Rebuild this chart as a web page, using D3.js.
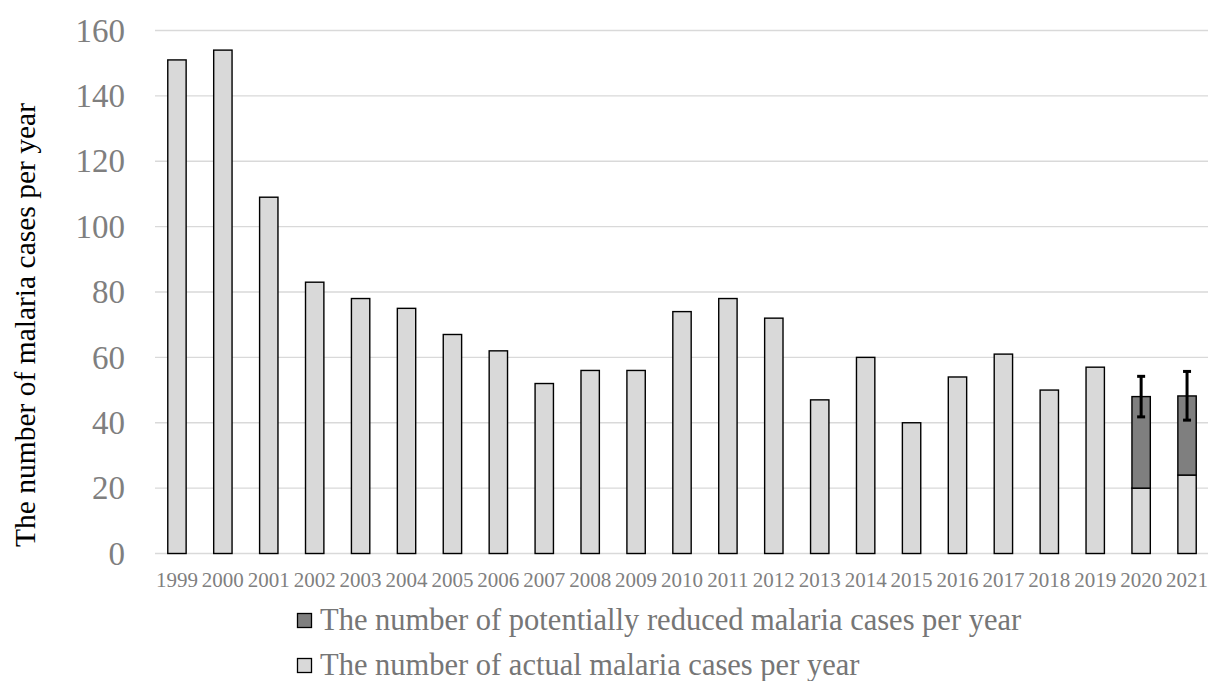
<!DOCTYPE html>
<html>
<head>
<meta charset="utf-8">
<script src="https://cdn.jsdelivr.net/npm/d3@7.9.0/dist/d3.min.js"></script>
<style>
  body { margin: 0; background: #fff; }
  svg { display: block; font-family: "Liberation Serif", "Times New Roman", serif; }
</style>
</head>
<body>
<svg id="chart" width="1208" height="681"></svg>
<script>
// data
const years = ['1999', '2000', '2001', '2002', '2003', '2004', '2005', '2006', '2007', '2008', '2009', '2010',
  '2011', '2012', '2013', '2014', '2015', '2016', '2017', '2018', '2019', '2020', '2021'];
const actualCases = [151, 154, 109, 83, 78, 75, 67, 62, 52, 56, 56, 74, 78, 72, 47, 60, 40, 54, 61, 50, 57, 20, 24];
const reducedCases = [0, 0, 0, 0, 0, 0, 0, 0, 0, 0, 0, 0, 0, 0, 0, 0, 0, 0, 0, 0, 0, 28, 24.2];
const errorLow = [null, null, null, null, null, null, null, null, null, null, null, null,
  null, null, null, null, null, null, null, null, null, 41.8, 40.8];
const errorHigh = [null, null, null, null, null, null, null, null, null, null, null, null,
  null, null, null, null, null, null, null, null, null, 54.2, 55.7];
const yTicks = [0, 20, 40, 60, 80, 100, 120, 140, 160];
const legendLabels = [
  'The number of potentially reduced malaria cases per year',
  'The number of actual malaria cases per year'
];

const svg = d3.select('#chart');

const x = d3.scaleBand()
  .domain(years)
  .range([154, 1210])
  .paddingInner(0.6)
  .paddingOuter(0.3);

const y = d3.scaleLinear()
  .domain([0, 160])
  .range([553.5, 30.5]);

// gridlines
svg.append('g')
  .selectAll('line')
  .data(yTicks)
  .join('line')
  .attr('x1', 155)
  .attr('x2', 1208)
  .attr('y1', d => y(d))
  .attr('y2', d => y(d))
  .attr('stroke', '#d9d9d9')
  .attr('stroke-width', 1.3);

// y tick labels
svg.append('g')
  .selectAll('text')
  .data(yTicks)
  .join('text')
  .attr('x', 125)
  .attr('y', d => y(d))
  .attr('dy', '0.34em')
  .attr('text-anchor', 'end')
  .attr('font-size', 33)
  .attr('fill', '#7f7f7f')
  .text(d => d);

// stacked bars
const rows = years.map((yr, i) => ({ year: yr, actual: actualCases[i], reduced: reducedCases[i] }));
const stacked = d3.stack().keys(['actual', 'reduced'])(rows);
const colors = { actual: '#d9d9d9', reduced: '#7f7f7f' };

stacked.forEach(layer => {
  svg.append('g')
    .selectAll('rect')
    .data(layer.filter(d => d[1] > d[0]))
    .join('rect')
    .attr('x', d => x(d.data.year))
    .attr('width', x.bandwidth())
    .attr('y', d => y(d[1]))
    .attr('height', d => y(d[0]) - y(d[1]))
    .attr('fill', colors[layer.key])
    .attr('stroke', '#000')
    .attr('stroke-width', 1.4);
});

// error bars
const errs = years.map((yr, i) => ({ year: yr, lo: errorLow[i], hi: errorHigh[i] }))
  .filter(d => d.lo !== null);
const eg = svg.append('g').attr('stroke', '#000').attr('stroke-width', 3);
errs.forEach(d => {
  const cx = x(d.year) + x.bandwidth() / 2;
  eg.append('line').attr('x1', cx).attr('x2', cx).attr('y1', y(d.lo)).attr('y2', y(d.hi));
  eg.append('line').attr('x1', cx - 4).attr('x2', cx + 4).attr('y1', y(d.lo)).attr('y2', y(d.lo));
  eg.append('line').attr('x1', cx - 4).attr('x2', cx + 4).attr('y1', y(d.hi)).attr('y2', y(d.hi));
});

// x tick labels
svg.append('g')
  .selectAll('text')
  .data(years)
  .join('text')
  .attr('x', d => x(d) + x.bandwidth() / 2)
  .attr('y', 587)
  .attr('text-anchor', 'middle')
  .attr('font-size', 21)
  .attr('fill', '#7f7f7f')
  .text(d => d);

// y axis title
svg.append('text')
  .attr('transform', 'translate(35,325) rotate(-90)')
  .attr('text-anchor', 'middle')
  .attr('font-size', 29.5)
  .attr('fill', '#000')
  .text('The number of malaria cases per year');

// legend
const legendFills = ['#7f7f7f', '#d9d9d9'];
legendLabels.forEach((label, i) => {
  const ly = 630 + i * 45;
  svg.append('rect')
    .attr('x', 297.5)
    .attr('y', ly - 16.5)
    .attr('width', 14)
    .attr('height', 14)
    .attr('fill', legendFills[i])
    .attr('stroke', '#000')
    .attr('stroke-width', 1.3);
  svg.append('text')
    .attr('x', 320)
    .attr('y', ly)
    .attr('font-size', 30.5)
    .attr('fill', '#767676')
    .text(label);
});
</script>
</body>
</html>
